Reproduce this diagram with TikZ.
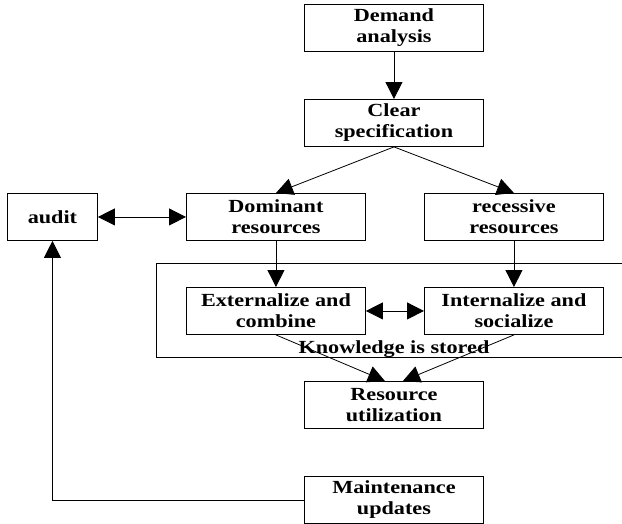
\documentclass[tikz,border=0pt]{standalone}
\usepackage{fontspec}
\setmainfont{Liberation Serif}[FakeStretch=1.2]
\usetikzlibrary{arrows.meta,calc}

\begin{document}
\begin{tikzpicture}[x=1pt,y=1pt,
  every node/.style={font=\fontsize{18.5}{21}\selectfont\bfseries},
  box/.style={draw=black,line width=0.9pt,fill=white,minimum width=179pt,minimum height=47pt,inner sep=0pt,align=center,anchor=north west},
  link/.style={draw=black,line width=0.8pt},
  tip/.style={-{Triangle[length=17pt,width=17pt]}},
  dtip/.style={{Triangle[length=17pt,width=17pt]}-{Triangle[length=17pt,width=17pt]}}
]
\useasboundingbox (0,0) rectangle (622,-523);

% frame around the knowledge-storage stage (open to the right)
\draw[link] (156,-263) rectangle (640,-357);

% boxes
\node[box] (demand)    at (304,-4)   {Demand\\analysis};
\node[box] (clear)     at (304,-99)  {Clear\\specification};
\node[box,minimum width=90pt] (audit) at (7,-193) {audit};
\node[box] (dominant)  at (186,-193) {Dominant\\resources};
\node[box] (recessive) at (424,-193) {recessive\\resources};
\node[box] (extern)    at (186,-287) {Externalize and\\combine};
\node[box] (intern)    at (424,-287) {Internalize and\\socialize};
\node[box] (resource)  at (304,-381) {Resource\\utilization};
\node[box] (maint)     at (304,-476) {Maintenance\\updates};

\node[anchor=base,inner sep=0pt] (kstored) at (394,-353) {Knowledge is stored};

\coordinate (resL) at ($(resource.north)+(-9,0)$);
\coordinate (resR) at ($(resource.north)+(9,0)$);

% connectors
\draw[link,tip] (demand.south) -- (clear.north);
\draw[link,tip] (clear.south) -- (dominant.north);
\draw[link,tip] (clear.south) -- (recessive.north);
\draw[link,dtip] (audit.east) -- (dominant.west);
\draw[link,tip] (dominant.south) -- (extern.north);
\draw[link,tip] (recessive.south) -- (intern.north);
\draw[link,dtip] (extern.east) -- (intern.west);
\draw[link,tip] (extern.south) -- (resL);
\draw[link,tip] (intern.south) -- (resR);
\draw[link,tip] (maint.west) -| (audit.south);
\end{tikzpicture}
\end{document}
